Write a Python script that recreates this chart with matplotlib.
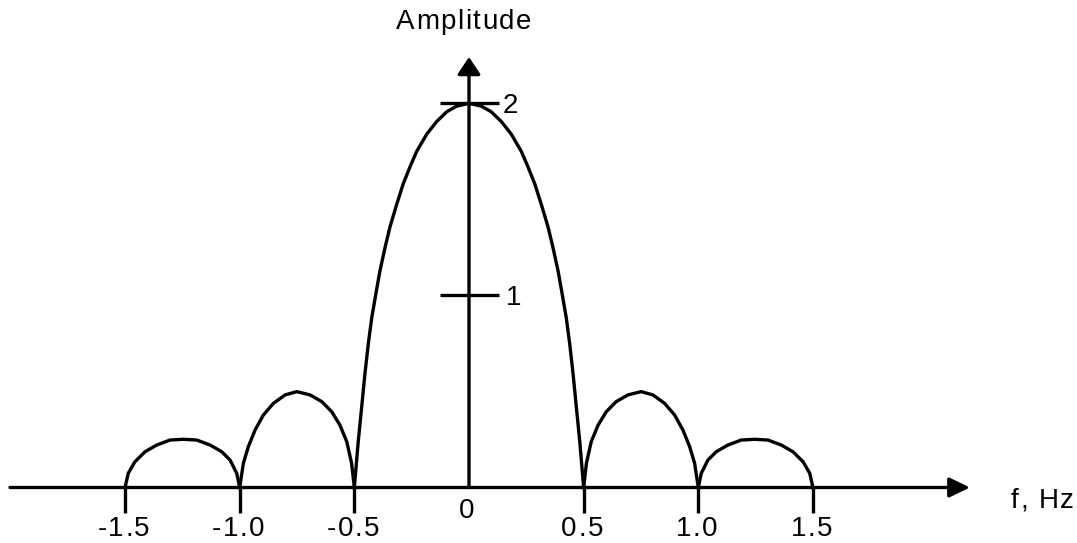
import matplotlib
matplotlib.use("Agg")
import matplotlib.pyplot as plt
from matplotlib.font_manager import FontProperties, findfont, get_font
from matplotlib.transforms import offset_copy

# ---- data ----
# main lobe
main_f = [-0.5, -0.483, -0.468, -0.454, -0.439, -0.424, -0.403, -0.388, -0.366,
          -0.345, -0.315, -0.287, -0.257, -0.228, -0.184, -0.141, -0.097, -0.054,
          0.0, 0.054, 0.097, 0.141, 0.184, 0.228, 0.257, 0.287, 0.315, 0.345,
          0.366, 0.388, 0.403, 0.424, 0.439, 0.454, 0.468, 0.483, 0.5]
main_a = [0.0, 0.24, 0.42, 0.59, 0.75, 0.885, 1.03, 1.13, 1.25,
          1.355, 1.475, 1.58, 1.67, 1.75, 1.84, 1.905, 1.956, 1.985,
          2.0, 1.985, 1.956, 1.905, 1.84, 1.75, 1.67, 1.58, 1.475, 1.355,
          1.25, 1.13, 1.03, 0.885, 0.75, 0.59, 0.42, 0.24, 0.0]

# first side lobes
side1_left_f = [-1.0, -0.984, -0.9625, -0.933, -0.897, -0.853, -0.802, -0.751,
                -0.693, -0.642, -0.599, -0.563, -0.533, -0.512, -0.5]
side1_left_a = [0.0, 0.126, 0.212, 0.299, 0.377, 0.438, 0.482, 0.499,
                0.482, 0.447, 0.395, 0.325, 0.238, 0.126, 0.0]
side1_right_f = [0.5, 0.512, 0.533, 0.563, 0.599, 0.642, 0.693, 0.751,
                 0.802, 0.853, 0.897, 0.933, 0.9625, 0.984, 1.0]
side1_right_a = [0.0, 0.126, 0.238, 0.325, 0.395, 0.447, 0.482, 0.499,
                 0.482, 0.438, 0.377, 0.299, 0.212, 0.126, 0.0]

# second side lobes
side2_left_f = [-1.5, -1.486, -1.457, -1.413, -1.362, -1.304, -1.246, -1.187,
                -1.129, -1.078, -1.042, -1.013, -1.0]
side2_left_a = [0.0, 0.074, 0.134, 0.186, 0.221, 0.247, 0.251, 0.247,
                0.221, 0.186, 0.143, 0.074, 0.0]
side2_right_f = [1.0, 1.013, 1.042, 1.078, 1.129, 1.187, 1.246, 1.304,
                 1.362, 1.413, 1.457, 1.486, 1.5]
side2_right_a = [0.0, 0.074, 0.143, 0.186, 0.221, 0.247, 0.251, 0.247,
                 0.221, 0.186, 0.134, 0.074, 0.0]

xtick_vals = [-1.5, -1.0, -0.5, 0.5, 1.0, 1.5]
xtick_labels = ["-1.5", "-1.0", "-0.5", "0.5", "1.0", "1.5"]
origin_label = "0"
ytick_vals = [1, 2]
ytick_labels = ["1", "2"]
xlabel = "f, Hz"
ylabel = "Amplitude"

# ---- figure ----
W, H, DPI = 1077, 543, 100
fig = plt.figure(figsize=(W / DPI, H / DPI), dpi=DPI)
ax = fig.add_axes([0, 0, 1, 1])
ax.axis("off")

# pixel geometry of the reference
x0_px, px_per_hz = 469.0, 229.3
y0_px, px_per_unit = 487.5, 192.1
ax.set_xlim(-x0_px / px_per_hz, (W - x0_px) / px_per_hz)
ax.set_ylim(-(H - y0_px) / px_per_unit, y0_px / px_per_unit)

LW = 2.4
K = "black"

# axes with arrows
x_start, x_tip = (10 - x0_px) / px_per_hz, (970 - x0_px) / px_per_hz
y_tip = (y0_px - 57) / px_per_unit
ax.annotate("", xy=(x_tip, 0), xytext=(x_start, 0),
            arrowprops=dict(arrowstyle="-|>,head_length=12.5,head_width=6.0",
                            lw=LW, color=K, shrinkA=0, shrinkB=0,
                            mutation_scale=1))
ax.annotate("", xy=(0, y_tip), xytext=(0, 0),
            arrowprops=dict(arrowstyle="-|>,head_length=10.5,head_width=7.0",
                            lw=LW, color=K, shrinkA=0, shrinkB=0,
                            mutation_scale=1))

# tick marks
xt_len = 25 / px_per_unit
for v in xtick_vals:
    ax.plot([v, v], [0, -xt_len], color=K, lw=LW, solid_capstyle="butt")
yt_half = 29.5 / px_per_hz
for v in ytick_vals:
    ax.plot([-yt_half, yt_half], [v, v], color=K, lw=LW, solid_capstyle="butt")

# curve
for fs, am in [(main_f, main_a), (side1_left_f, side1_left_a),
               (side1_right_f, side1_right_a), (side2_left_f, side2_left_a),
               (side2_right_f, side2_right_a)]:
    ax.plot(fs, am, color=K, lw=LW, solid_joinstyle="round")

# tracked text helper
FS = 20
SP = 1.5
prop = FontProperties(family="Liberation Sans", size=FS)
_font = get_font(findfont(prop))
_font.set_size(FS, DPI)


def tracked(x, y, s, ha="center", spacing=SP):
    advs = [_font.load_char(ord(c)).linearHoriAdvance / 65536 for c in s]
    total = sum(advs) + spacing * (len(s) - 1)
    off = {"center": -total / 2, "left": 0.0, "right": -total}[ha]
    for c, a in zip(s, advs):
        tr = offset_copy(ax.transData, fig=fig, x=off * 72 / DPI, y=0,
                         units="points")
        ax.text(x, y, c, fontproperties=prop, ha="left", va="baseline",
                transform=tr, color=K)
        off += a + spacing


def py(px):  # pixel row -> data y
    return (y0_px - px) / px_per_unit


def px(pxv):  # pixel col -> data x
    return (pxv - x0_px) / px_per_hz


for v, lab in zip(xtick_vals, xtick_labels):
    tracked(v - 1.5 / px_per_hz, py(536), lab)
tracked(px(466.5), py(518.5), origin_label)
tracked(px(506), py(305), ytick_labels[0], ha="left")
tracked(px(503), py(112.5), ytick_labels[1], ha="left")
tracked(px(1011), py(508), xlabel, ha="left")
tracked(px(463.5), py(29), ylabel)

fig.savefig("out.png", dpi=DPI, facecolor="white")
